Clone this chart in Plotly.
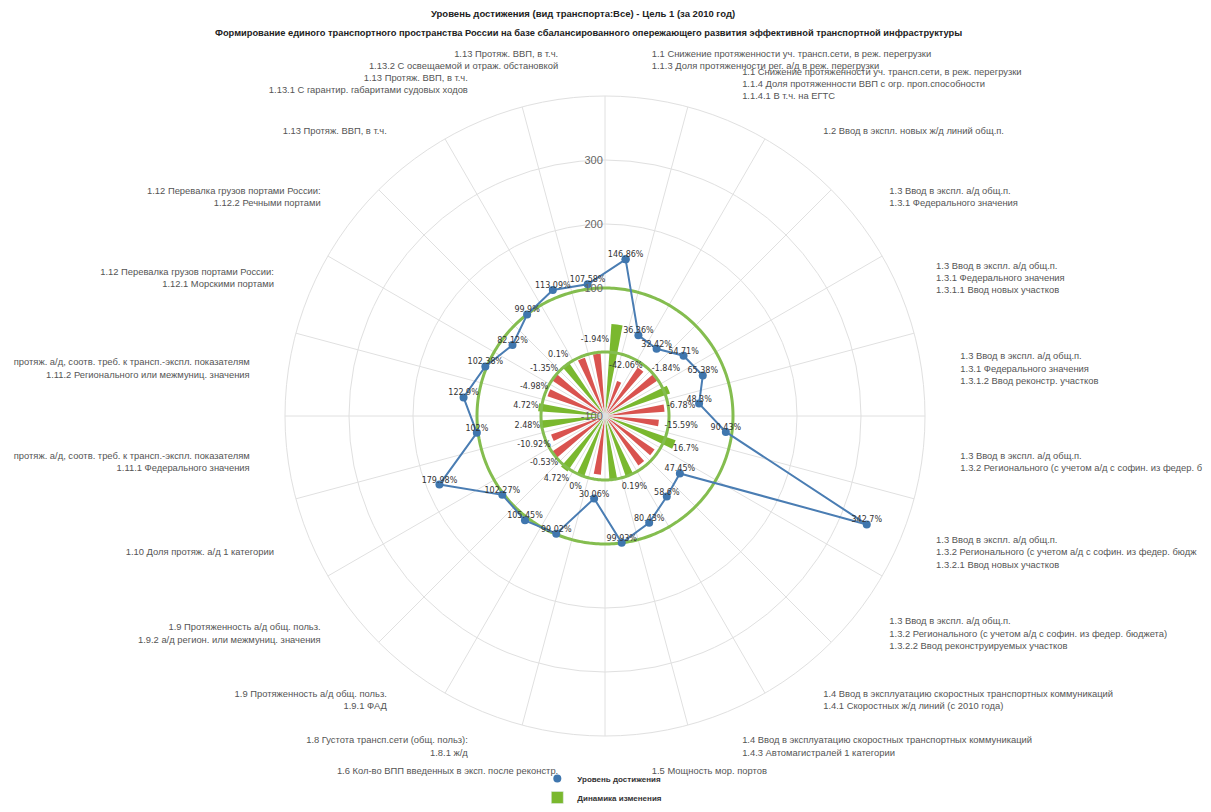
import numpy as np
import plotly.graph_objects as go

# ---------------- data ----------------
categories = [
    "1.1 Снижение протяженности уч. трансп.сети, в реж. перегрузки<br>1.1.3 Доля протяженности рег. а/д в реж. перегрузки",
    "1.1 Снижение протяженности уч. трансп.сети, в реж. перегрузки<br>1.1.4 Доля протяженности ВВП с огр. проп.способности<br>1.1.4.1 В т.ч. на ЕГТС",
    "1.2 Ввод в экспл. новых ж/д линий общ.п.",
    "1.3 Ввод в экспл. а/д общ.п.<br>1.3.1 Федерального значения",
    "1.3 Ввод в экспл. а/д общ.п.<br>1.3.1 Федерального значения<br>1.3.1.1 Ввод новых участков",
    "1.3 Ввод в экспл. а/д общ.п.<br>1.3.1 Федерального значения<br>1.3.1.2 Ввод реконстр. участков",
    "1.3 Ввод в экспл. а/д общ.п.<br>1.3.2 Регионального (с учетом а/д с софин. из федер. б",
    "1.3 Ввод в экспл. а/д общ.п.<br>1.3.2 Регионального (с учетом а/д с софин. из федер. бюдж<br>1.3.2.1 Ввод новых участков",
    "1.3 Ввод в экспл. а/д общ.п.<br>1.3.2 Регионального (с учетом а/д с софин. из федер. бюджета)<br>1.3.2.2 Ввод реконструируемых участков",
    "1.4 Ввод в эксплуатацию скоростных транспортных коммуникаций<br>1.4.1 Скоростных ж/д линий (с 2010 года)",
    "1.4 Ввод в эксплуатацию скоростных транспортных коммуникаций<br>1.4.3 Автомагистралей 1 категории",
    "1.5 Мощность мор. портов",
    "1.6 Кол-во ВПП введенных в эксп. после реконстр.",
    "1.8 Густота трансп.сети (общ. польз):<br>1.8.1 ж/д",
    "1.9 Протяженность а/д общ. польз.<br>1.9.1 ФАД",
    "1.9 Протяженность а/д общ. польз.<br>1.9.2 а/д регион. или межмуниц. значения",
    "1.10 Доля протяж. а/д 1 категории",
    "протяж. а/д, соотв. треб. к трансп.-экспл. показателям<br>1.11.1 Федерального значения",
    "протяж. а/д, соотв. треб. к трансп.-экспл. показателям<br>1.11.2 Регионального или межмуниц. значения",
    "1.12 Перевалка грузов портами России:<br>1.12.1 Морскими портами",
    "1.12 Перевалка грузов портами России:<br>1.12.2 Речными портами",
    "1.13 Протяж. ВВП, в т.ч.",
    "1.13 Протяж. ВВП, в т.ч.<br>1.13.1 С гарантир. габаритами судовых ходов",
    "1.13 Протяж. ВВП, в т.ч.<br>1.13.2 С освещаемой и отраж. обстановкой",
]

level_values = [146.86, 36.36, 32.42, 54.71, 65.38, 48.3, 90.43, 342.7, 47.45, 58.6,
                80.43, 99.93, 30.06, 99.02, 105.45, 102.27, 179.98, 102.0, 122.9,
                102.38, 82.12, 99.9, 113.09, 107.58]

change_values = [44.0, -42.06, -8.6, -1.84, 7.4, -6.78, -15.59, 16.7, -6.6, -6.8,
                 0.19, 0.5, -8.0, 0.0, 4.72, -0.53, -10.92, 2.48, 4.72, -4.98,
                 -1.35, 0.1, -3.6, -1.94]

# labels that are visible in the chart (others hidden by overlap)
change_labels = ["", "-42.06%", "", "-1.84%", "", "-6.78%", "-15.59%", "16.7%", "", "",
                 "0.19%", "", "", "0%", "4.72%", "-0.53%", "-10.92%", "2.48%", "4.72%",
                 "-4.98%", "-1.35%", "0.1%", "", "-1.94%"]

radial_ticks = [-100, 0, 100, 200, 300, 400]
radial_ticktext = ["-100", "", "100", "200", "300", ""]
target_level = 100
zero_level = 0

title_text = "Уровень достижения (вид транспорта:Все) - Цель 1 (за 2010 год)"
subtitle_text = ("Формирование единого транспортного пространства России на базе "
                 "сбалансированного опережающего развития эффективной транспортной инфраструктуры")
legend_names = ["Уровень достижения", "Динамика изменения"]

# ---------------- derived ----------------
n = len(categories)
step = 360.0 / n
theta = np.array([(i + 0.5) * step for i in range(n)])
rmin, rmax = radial_ticks[0], radial_ticks[-1]
label_r = rmax + 60          # category labels sit outside the outer ring
range_max = label_r          # radial range extended to hold the labels

chg = np.array(change_values)
lvl = np.array(level_values)

GREEN = "#7ab82e"
RED = "#d9534f"
BLUE = "#4a7db3"
GRID = "#e0e0e0"

fig = go.Figure()

# spokes at category boundaries
sp_r, sp_t = [], []
for i in range(n):
    sp_r += [rmin, rmax, None]
    sp_t += [i * step, i * step, None]
fig.add_trace(go.Scatterpolar(r=sp_r, theta=sp_t, mode="lines",
                              line=dict(color=GRID, width=1), hoverinfo="skip",
                              showlegend=False))

# bars from the centre
fig.add_trace(go.Barpolar(
    r=chg - rmin, base=rmin, theta=theta, width=7,
    marker=dict(color=[GREEN if v >= 0 else RED for v in chg], line=dict(width=0)),
    showlegend=False, customdata=chg,
    hovertemplate="%{customdata}%<extra></extra>"))

# reference circles
circ_t = np.linspace(0, 360, 361)
for lev in (zero_level, target_level):
    fig.add_trace(go.Scatterpolar(r=np.full_like(circ_t, lev), theta=circ_t, mode="lines",
                                  line=dict(color="#84bd4f", width=3), hoverinfo="skip",
                                  showlegend=False))

# bar labels
lab_r = np.where(chg < -20, chg + 27, np.maximum(chg, 0) + 20)
fig.add_trace(go.Scatterpolar(r=lab_r, theta=theta, mode="text", text=change_labels,
                              textfont=dict(size=8, color="#333", family="DejaVu Sans"),
                              hoverinfo="skip", showlegend=False))

# achievement level line (closed)
fig.add_trace(go.Scatterpolar(
    r=np.append(lvl, lvl[0]), theta=np.append(theta, theta[0]),
    mode="lines+markers", line=dict(color=BLUE, width=2),
    marker=dict(color="#3f76ae", size=8), showlegend=False))
fig.add_trace(go.Scatterpolar(
    r=lvl, theta=theta, mode="text", text=[f"{v:g}%" for v in lvl],
    textposition="top center",
    textfont=dict(size=8, color="#333", family="DejaVu Sans"),
    hoverinfo="skip", showlegend=False))

# category labels outside the outer ring (vertically centred, like the original)
cat_pos = ["middle right" if np.sin(np.radians(t)) > 0 else "middle left" for t in theta]
fig.add_trace(go.Scatterpolar(
    r=np.full(n, label_r), theta=theta, mode="text", text=categories,
    textposition=cat_pos, cliponaxis=False,
    textfont=dict(size=9.4, color="#555", family="Liberation Sans"),
    hoverinfo="skip", showlegend=False))

# legend entries
fig.add_trace(go.Scatterpolar(r=[None], theta=[None], mode="markers",
                              marker=dict(color="#3f76ae", size=8),
                              name="<b>" + legend_names[0] + "</b>"))
fig.add_trace(go.Barpolar(r=[None], theta=[None], marker=dict(color=GREEN),
                          name="<b>" + legend_names[1] + "</b>"))

# page body has an 8px margin: figure origin sits at (8, 8) of the window
W, H = 1203, 804
px_per_unit = 0.64
cx, cy = 597, 408
R = (range_max - rmin) * px_per_unit
fig.update_layout(
    width=W, height=H, margin=dict(l=0, r=0, t=0, b=0),
    paper_bgcolor="white", plot_bgcolor="white",
    font=dict(family="Liberation Sans", color="#555"),
    polar=dict(
        domain=dict(x=[(cx - R) / W, (cx + R) / W], y=[(H - cy - R) / H, (H - cy + R) / H]),
        bgcolor="white",
        radialaxis=dict(range=[rmin, range_max], tickvals=radial_ticks, ticktext=radial_ticktext,
                        showline=False, ticks="", gridcolor=GRID, angle=90, tickangle=90,
                        tickfont=dict(size=11, color="#666"), side="counterclockwise"),
        angularaxis=dict(rotation=90, direction="clockwise", tickvals=theta,
                         showticklabels=False, showgrid=False, showline=False, ticks=""),
    ),
    showlegend=True,
    legend=dict(x=0.44, y=0.0, xanchor="left", yanchor="bottom", orientation="v",
                font=dict(size=8, color="#333"), tracegroupgap=0, itemwidth=30,
                bgcolor="rgba(0,0,0,0)"),
    annotations=[
        dict(text="<b>" + title_text + "</b>", x=575 / W, y=1 - 5 / H, xref="paper", yref="paper",
             xanchor="center", yanchor="middle",
             showarrow=False, font=dict(size=9.5, color="#222")),
        dict(text="<b>" + subtitle_text + "</b>", x=580 / W, y=1 - 25 / H, xref="paper", yref="paper",
             xanchor="center", yanchor="middle",
             showarrow=False, font=dict(size=9.3, color="#222")),
    ],
)

fig.write_html("out.html")
